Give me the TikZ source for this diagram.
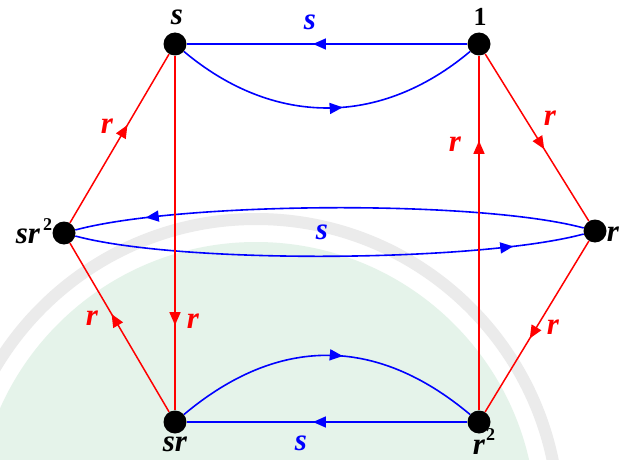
\documentclass[tikz,border=0pt]{standalone}
\usepackage{fontspec}
\setmainfont{Liberation Serif}
\usetikzlibrary{decorations.markings,arrows.meta}
\definecolor{wmgreen}{HTML}{E5F3EA}
\definecolor{wmgrey}{HTML}{EBEBEB}
\begin{document}
\begin{tikzpicture}[x=1pt,y=-1pt,
  vtx/.style={circle,fill=black,minimum size=23pt,inner sep=0pt},
  lbl/.style={font=\fontsize{31}{33}\selectfont\bfseries\itshape,inner sep=0pt},
  onelbl/.style={font=\fontsize{26}{28}\selectfont\bfseries,inner sep=0pt},
  suplbl/.style={font=\fontsize{18}{19}\selectfont\bfseries,inner sep=0pt},
  blueedge/.style={color=blue,line width=1.6pt},
  rededge/.style={color=red,line width=1.5pt},
  midarrow/.style={postaction={decorate},decoration={markings,mark=at position #1 with {\arrow{Triangle[length=13pt,width=11pt]}}}},
]
\useasboundingbox (0,0) rectangle (619,460);
\fill[white] (0,0) rectangle (619,460);
\begin{scope}
\clip (0,0) rectangle (619,460);
\draw[wmgrey,line width=12pt] (256,522) circle[radius=303];
\fill[wmgreen] (256,522) circle[radius=280];
\end{scope}

\node[vtx] (e) at (479,44) {};
\node[vtx] (s) at (175,44) {};
\node[vtx] (sr2) at (64,233) {};
\node[vtx] (r) at (595,231) {};
\node[vtx] (sr) at (175,422) {};
\node[vtx] (r2) at (479,422) {};

% blue edges
\draw[blueedge,midarrow=0.55] (e) -- (s);
\draw[blueedge,midarrow=0.55] (s) to[out=-40,in=-140,looseness=1.05] (e);
\draw[blueedge,midarrow=0.55] (r2) -- (sr);
\draw[blueedge,midarrow=0.55] (sr) to[out=40,in=140,looseness=1.1] (r2);
\draw[blueedge,midarrow=0.86] (r) to[out=165,in=15,looseness=0.55] (sr2);
\draw[blueedge,midarrow=0.86] (sr2) to[out=-15,in=-165,looseness=0.55] (r);

% red edges
\draw[rededge,midarrow=0.57] (e) -- (r);
\draw[rededge,midarrow=0.57] (r) -- (r2);
\draw[rededge,midarrow=0.76] (r2) -- (e);
\draw[rededge,midarrow=0.76] (s) -- (sr);
\draw[rededge,midarrow=0.58] (sr) -- (sr2);
\draw[rededge,midarrow=0.58] (sr2) -- (s);

% vertex labels
\node[lbl] (ls) at (177,17) {s};
\node[onelbl] (le) at (480,17) {1};
\node[lbl] (lsr) at (175,444) {sr};
\node[lbl] (lr2) at (479,447) {r};
\node[suplbl,anchor=south west] (lr2s) at (486,441) {2};
\node[lbl] (lsr2) at (28,236) {sr};
\node[suplbl,anchor=south west] (lsr2s) at (43,231) {2};
\node[lbl] (lr) at (613,234) {r};

% edge labels
\node[lbl,blue] (bs1) at (310,22) {s};
\node[lbl,blue] (bs2) at (322,232) {s};
\node[lbl,blue] (bs3) at (301,443) {s};
\node[lbl,red] (rr1) at (107,126) {r};
\node[lbl,red] (rr2) at (455,144) {r};
\node[lbl,red] (rr3) at (550,118) {r};
\node[lbl,red] (rr4) at (193,321) {r};
\node[lbl,red] (rr5) at (92,318) {r};
\node[lbl,red] (rr6) at (553,327) {r};
\end{tikzpicture}
\end{document}
